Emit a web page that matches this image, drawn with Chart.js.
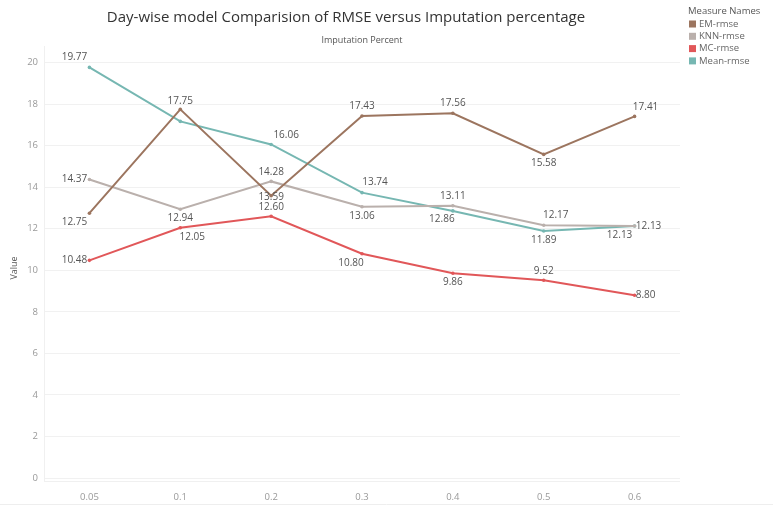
<!DOCTYPE html>
<html>
<head>
<meta charset="utf-8">
<script src="https://cdn.jsdelivr.net/npm/chart.js@4.4.1/dist/chart.umd.min.js"></script>
<style>
  html, body { margin: 0; padding: 0; background: #fff; }
  #wrap { width: 773px; height: 506px; position: relative; }
</style>
</head>
<body>
<div id="wrap"><canvas id="c" width="773" height="506"></canvas></div>
<script>
// Imputation percentages on the x axis
const categories = ['0.05', '0.1', '0.2', '0.3', '0.4', '0.5', '0.6'];

// RMSE per method
const emRmse   = [12.75, 17.75, 13.59, 17.43, 17.56, 15.58, 17.41];
const knnRmse  = [14.37, 12.94, 14.28, 13.06, 13.11, 12.17, 12.13];
const mcRmse   = [10.48, 12.05, 12.60, 10.80,  9.86,  9.52,  8.80];
const meanRmse = [19.77, 17.17, 16.06, 13.74, 12.86, 11.89, 12.13];

const seriesNames = ['EM-rmse', 'KNN-rmse', 'MC-rmse', 'Mean-rmse'];
const yTicks = [0, 2, 4, 6, 8, 10, 12, 14, 16, 18, 20];

const colors = ['#9c755f', '#bab0ac', '#e15759', '#76b7b2'];

// Where each value label sits relative to its point: [dx, dy] in px, null = no label
const labelOffsets = [
  [[-15, 9], [0, -8], [0, 1], [0, -10], [0, -10], [0, 9], [11, -9]],
  [[-15, 0], [0, 9], [0, -9], [0, 9], [0, -10], [12, -10], [14, 0]],
  [[-15, 0], [12, 9], [0, -9], [-11, 9], [0, 9], [0, -9], [11, 0]],
  [[-15, -10], null, [15, -9], [13, -10], [-11, 8], [0, 9], [-15, 9]]
];

const FONT = '"Open Sans", "Noto Sans", sans-serif';

const textPlugin = {
  id: 'texts',
  beforeDatasetsDraw(chart) {
    const ctx = chart.ctx;
    const area = chart.chartArea;
    ctx.save();
    ctx.strokeStyle = '#f0f0f0';
    ctx.lineWidth = 1;
    ctx.beginPath();
    ctx.moveTo(area.left + 0.5, area.top);
    ctx.lineTo(area.left + 0.5, area.bottom + 3);
    ctx.moveTo(area.left, area.bottom + 3.5);
    ctx.lineTo(area.right, area.bottom + 3.5);
    ctx.stroke();
    ctx.restore();
  },
  afterDatasetsDraw(chart) {
    const ctx = chart.ctx;
    ctx.save();
    // value labels
    ctx.font = '10px ' + FONT;
    ctx.fillStyle = '#555';
    ctx.textAlign = 'center';
    ctx.textBaseline = 'middle';
    chart.data.datasets.forEach((ds, i) => {
      const meta = chart.getDatasetMeta(i);
      meta.data.forEach((pt, j) => {
        const off = labelOffsets[i][j];
        if (!off) return;
        ctx.fillText(ds.data[j].toFixed(2), pt.x + off[0], pt.y + off[1]);
      });
    });
    ctx.restore();
  },
  afterDraw(chart) {
    const ctx = chart.ctx;
    const area = chart.chartArea;
    ctx.save();
    // title
    ctx.fillStyle = '#333';
    ctx.textAlign = 'center';
    ctx.textBaseline = 'middle';
    ctx.font = '15px ' + FONT;
    ctx.fillText('Day-wise model Comparision of RMSE versus Imputation percentage', 346, 18);
    // axis header above plot
    ctx.font = '9px ' + FONT;
    ctx.fillStyle = '#555';
    ctx.fillText('Imputation Percent', (area.left + area.right) / 2, 40);
    // y axis title
    ctx.save();
    ctx.translate(14, 268);
    ctx.rotate(-Math.PI / 2);
    ctx.fillText('Value', 0, 0);
    ctx.restore();
    // legend
    ctx.textAlign = 'left';
    ctx.font = '9.5px ' + FONT;
    ctx.fillStyle = '#555';
    ctx.fillText('Measure Names', 688, 11);
    seriesNames.forEach((name, i) => {
      const y = 24 + i * 12.3;
      ctx.fillStyle = colors[i];
      ctx.fillRect(689, y - 3.5, 7, 7);
      ctx.fillStyle = '#666';
      ctx.fillText(name, 699, y);
    });
    // bottom rule
    ctx.strokeStyle = '#eee';
    ctx.lineWidth = 1;
    ctx.beginPath();
    ctx.moveTo(0, 504.5);
    ctx.lineTo(773, 504.5);
    ctx.stroke();
    ctx.restore();
  }
};

const allSeries = [emRmse, knnRmse, mcRmse, meanRmse];

new Chart(document.getElementById('c'), {
  type: 'line',
  data: {
    labels: categories,
    datasets: allSeries.map((vals, i) => ({
      label: seriesNames[i],
      data: vals,
      borderColor: colors[i],
      backgroundColor: colors[i],
      borderWidth: 2,
      pointRadius: 1.8,
      pointBorderWidth: 0,
      tension: 0
    }))
  },
  options: {
    responsive: false,
    animation: false,
    events: [],
    layout: { padding: { top: 46, right: 93, left: 0, bottom: 0 } },
    plugins: { legend: { display: false }, title: { display: false }, tooltip: { enabled: false } },
    scales: {
      x: {
        offset: true,
        grid: { display: false },
        border: { display: false },
        ticks: { color: '#999', font: { size: 9.5, family: FONT }, padding: 6, maxRotation: 0 },
        afterFit(s) { s.height = 28; }
      },
      y: {
        min: 0,
        max: 20.8,
        afterBuildTicks(s) { s.ticks = yTicks.map(v => ({ value: v })); },
        grid: { color: '#f1f1f1', drawTicks: false },
        border: { display: false },
        ticks: { color: '#999', font: { size: 9.5, family: FONT }, padding: 6 },
        afterFit(s) { s.width = 44; }
      }
    }
  },
  plugins: [textPlugin]
});
</script>
</body>
</html>
